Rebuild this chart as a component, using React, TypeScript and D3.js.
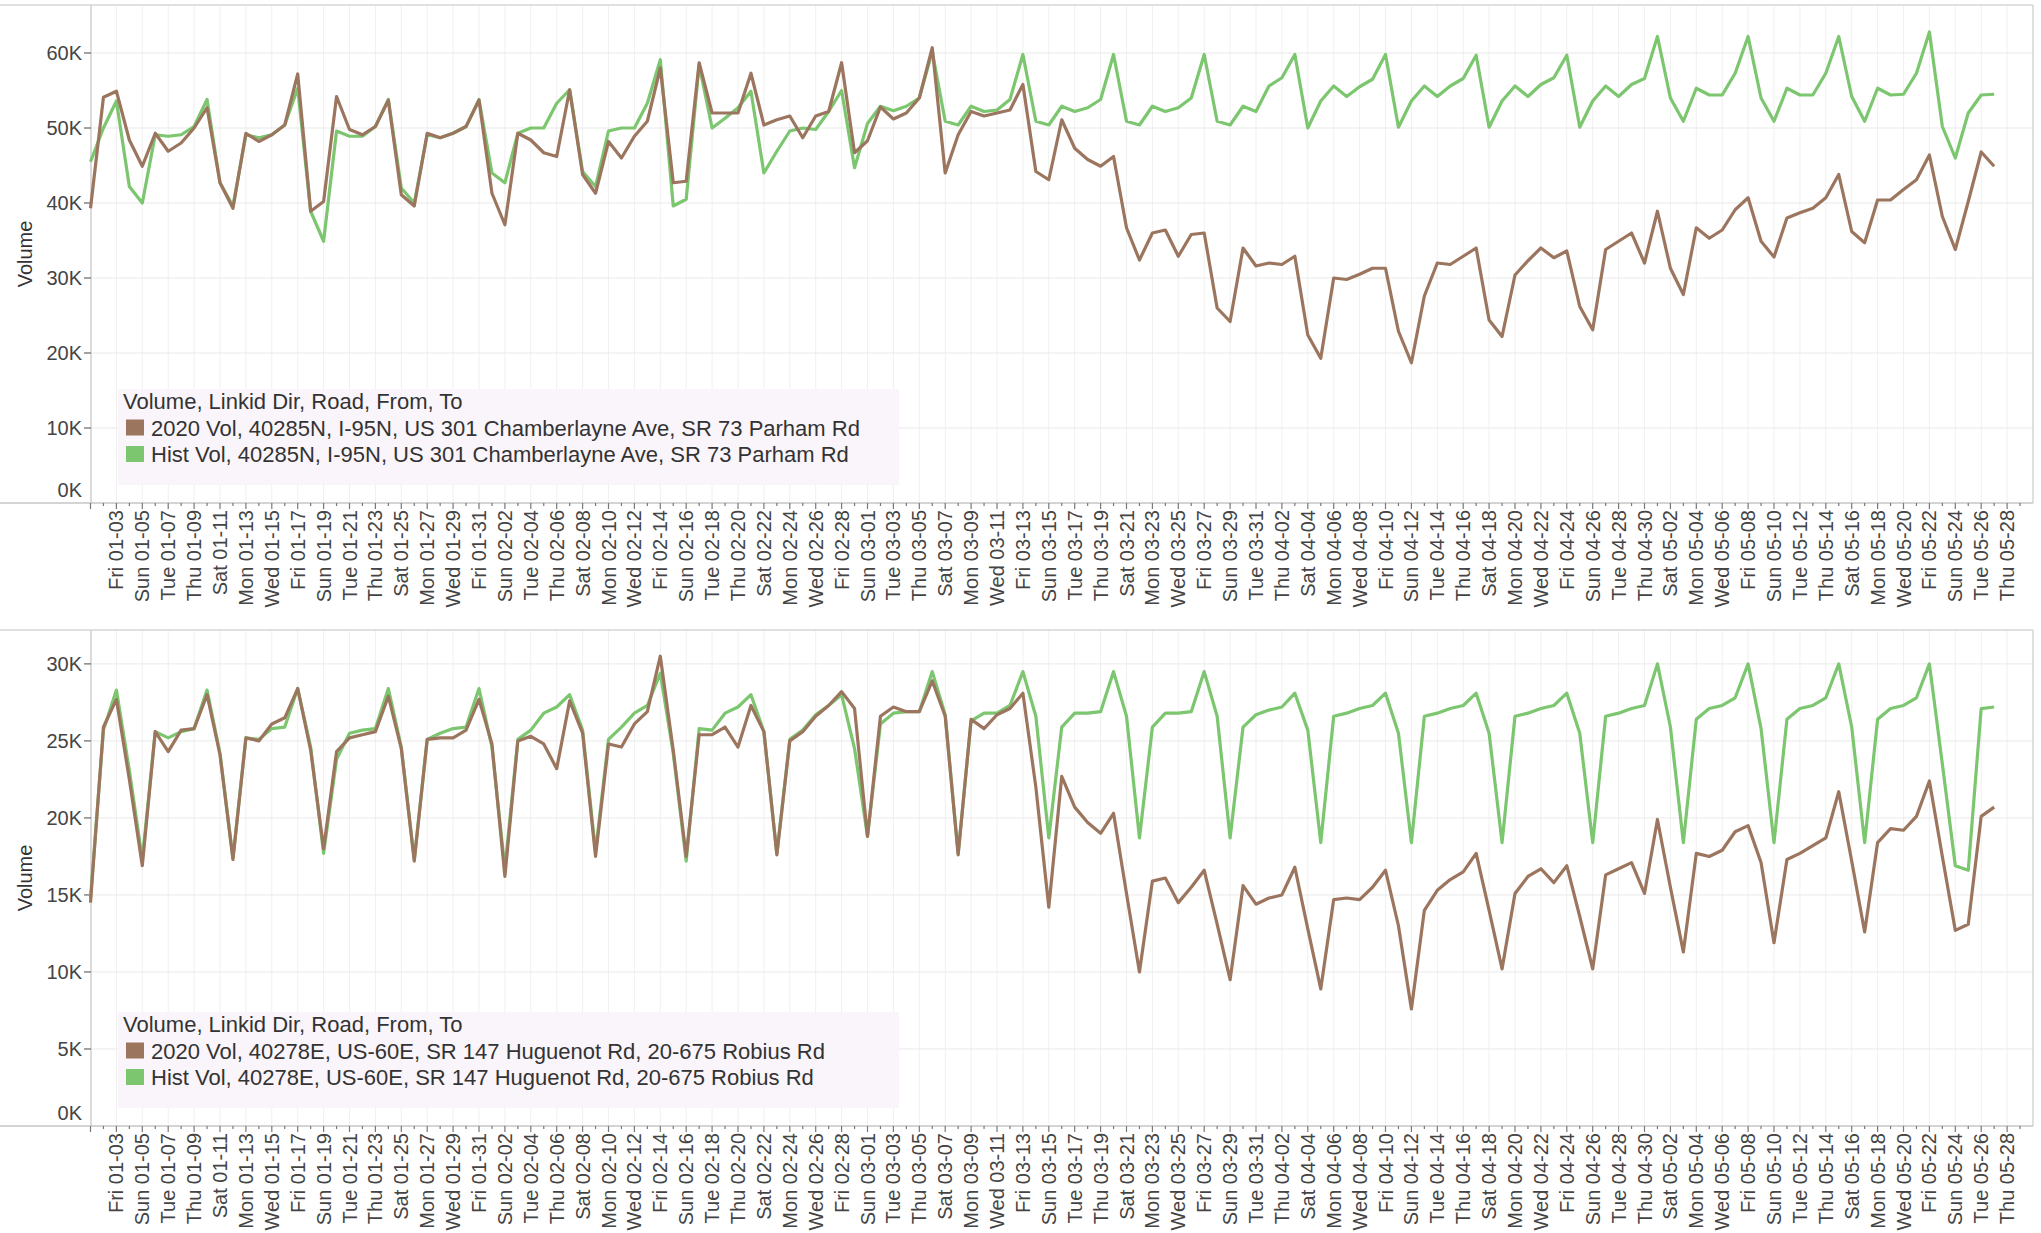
import { useEffect, useRef } from 'react';
import * as d3 from 'd3';

const WIDTH = 2041;
const HEIGHT = 1233;

// one value per day, Wed 01-01 .. Wed 05-27, in thousands of vehicles
const vol2020_40285N = [
  39.3, 54.1, 54.9, 48.4, 44.9, 49.3, 46.9, 48.0, 50.0, 52.7,
  42.7, 39.3, 49.3, 48.2, 49.1, 50.4, 57.2, 38.9, 40.2, 54.2,
  49.8, 49.1, 50.2, 53.7, 41.1, 39.6, 49.3, 48.7, 49.3, 50.2,
  53.7, 41.3, 37.1, 49.3, 48.4, 46.7, 46.2, 55.1, 43.8, 41.3,
  48.2, 46.0, 48.9, 50.9, 58.0, 42.7, 42.9, 58.7, 52.0, 52.0,
  52.0, 57.3, 50.4, 51.1, 51.6, 48.7, 51.6, 52.2, 58.7, 46.7,
  48.3, 52.8, 51.2, 52.0, 54.0, 60.7, 44.0, 49.1, 52.2, 51.6,
  52.0, 52.4, 55.8, 44.2, 43.1, 51.1, 47.3, 45.8, 44.9, 46.2,
  36.7, 32.4, 36.0, 36.4, 32.9, 35.8, 36.0, 26.0, 24.2, 34.0,
  31.6, 32.0, 31.8, 32.9, 22.4, 19.3, 30.0, 29.8, 30.5, 31.3,
  31.3, 22.9, 18.7, 27.6, 32.0, 31.8, 32.9, 34.0, 24.4, 22.2,
  30.4, 32.3, 34.0, 32.7, 33.6, 26.2, 23.1, 33.8, 34.9, 36.0,
  32.0, 38.9, 31.3, 27.8, 36.7, 35.3, 36.4, 39.1, 40.7, 34.9,
  32.8, 38.0, 38.7, 39.3, 40.7, 43.8, 36.2, 34.7, 40.4, 40.4,
  41.8, 43.1, 46.4, 38.2, 33.8, 40.2, 46.8, 44.9,
];

const hist_40285N = [
  45.5, 50.0, 53.6, 42.2, 40.0, 49.1, 48.9, 49.1, 50.2, 53.8,
  42.7, 39.6, 49.1, 48.7, 49.1, 50.4, 55.3, 38.9, 34.9, 49.6,
  48.9, 48.9, 50.2, 53.8, 42.0, 40.0, 49.1, 48.7, 49.3, 50.2,
  53.8, 44.0, 42.7, 49.3, 50.0, 50.0, 53.3, 55.1, 44.2, 42.2,
  49.6, 50.0, 50.0, 53.3, 59.1, 39.6, 40.5, 58.4, 50.0, 51.3,
  52.7, 54.9, 44.0, 46.9, 49.6, 50.0, 49.8, 52.2, 55.0, 44.7,
  50.6, 52.9, 52.3, 52.9, 54.0, 60.2, 50.9, 50.4, 52.9, 52.2,
  52.4, 53.8, 59.8, 50.9, 50.4, 52.9, 52.2, 52.7, 53.8, 59.8,
  50.9, 50.4, 52.9, 52.2, 52.7, 54.0, 59.8, 50.9, 50.4, 52.9,
  52.2, 55.6, 56.7, 59.8, 50.0, 53.6, 55.6, 54.2, 55.5, 56.5,
  59.8, 50.1, 53.6, 55.6, 54.2, 55.6, 56.6, 59.7, 50.1, 53.6,
  55.6, 54.2, 55.8, 56.7, 59.7, 50.1, 53.6, 55.6, 54.2, 55.8,
  56.6, 62.2, 54.0, 50.9, 55.3, 54.4, 54.4, 57.3, 62.2, 54.0,
  50.9, 55.3, 54.4, 54.4, 57.3, 62.2, 54.2, 50.9, 55.3, 54.4,
  54.5, 57.3, 62.8, 50.2, 46.0, 52.0, 54.4, 54.5,
];

const vol2020_40278E = [
  14.5, 25.9, 27.7, 22.5, 16.9, 25.6, 24.3, 25.7, 25.8, 28.0,
  24.1, 17.3, 25.2, 25.0, 26.1, 26.5, 28.4, 24.4, 18.0, 24.3,
  25.2, 25.4, 25.6, 27.9, 24.5, 17.2, 25.1, 25.2, 25.2, 25.7,
  27.7, 24.8, 16.2, 25.0, 25.3, 24.8, 23.2, 27.6, 25.5, 17.5,
  24.8, 24.6, 26.1, 26.9, 30.5, 24.4, 17.5, 25.4, 25.4, 25.9,
  24.6, 27.3, 25.6, 17.6, 25.0, 25.6, 26.6, 27.3, 28.2, 27.1,
  18.8, 26.6, 27.2, 26.9, 26.9, 28.9, 26.6, 17.6, 26.4, 25.8,
  26.7, 27.1, 28.1, 22.0, 14.2, 22.7, 20.7, 19.7, 19.0, 20.3,
  15.1, 10.0, 15.9, 16.1, 14.5, 15.5, 16.6, 13.1, 9.5, 15.6,
  14.4, 14.8, 15.0, 16.8, 12.8, 8.9, 14.7, 14.8, 14.7, 15.5,
  16.6, 13.0, 7.6, 14.0, 15.3, 16.0, 16.5, 17.7, 14.0, 10.2,
  15.1, 16.2, 16.7, 15.8, 16.9, 13.6, 10.2, 16.3, 16.7, 17.1,
  15.1, 19.9, 15.5, 11.3, 17.7, 17.5, 17.9, 19.1, 19.5, 17.1,
  11.9, 17.3, 17.7, 18.2, 18.7, 21.7, 17.2, 12.6, 18.4, 19.3,
  19.2, 20.1, 22.4, 17.5, 12.7, 13.1, 20.1, 20.7,
];

const hist_40278E = [
  14.8, 25.7, 28.3, 23.1, 17.3, 25.6, 25.2, 25.6, 25.8, 28.3,
  24.2, 17.4, 25.2, 25.1, 25.8, 25.9, 28.4, 24.6, 17.7, 23.8,
  25.5, 25.7, 25.8, 28.4, 24.6, 17.3, 25.1, 25.5, 25.8, 25.9,
  28.4, 24.6, 16.7, 25.1, 25.7, 26.8, 27.2, 28.0, 25.7, 17.8,
  25.1, 25.9, 26.8, 27.3, 29.4, 24.2, 17.2, 25.8, 25.7, 26.8,
  27.2, 28.0, 25.6, 17.7, 25.1, 25.7, 26.7, 27.3, 28.0, 24.5,
  18.8, 26.1, 26.8, 26.9, 26.9, 29.5, 26.7, 17.7, 26.3, 26.8,
  26.8, 27.3, 29.5, 26.6, 18.7, 25.9, 26.8, 26.8, 26.9, 29.5,
  26.6, 18.7, 25.9, 26.8, 26.8, 26.9, 29.5, 26.6, 18.7, 25.9,
  26.7, 27.0, 27.2, 28.1, 25.7, 18.4, 26.6, 26.8, 27.1, 27.3,
  28.1, 25.5, 18.4, 26.6, 26.8, 27.1, 27.3, 28.1, 25.5, 18.4,
  26.6, 26.8, 27.1, 27.3, 28.1, 25.5, 18.4, 26.6, 26.8, 27.1,
  27.3, 30.0, 25.9, 18.4, 26.4, 27.1, 27.3, 27.8, 30.0, 25.8,
  18.4, 26.4, 27.1, 27.3, 27.8, 30.0, 25.9, 18.4, 26.4, 27.1,
  27.3, 27.8, 30.0, 23.5, 16.9, 16.6, 27.1, 27.2,
];

const ticksTop = [0, 10000, 20000, 30000, 40000, 50000, 60000];
const ticksBottom = [0, 5000, 10000, 15000, 20000, 25000, 30000];

const legendTitle = 'Volume, Linkid Dir, Road, From, To';
const legendTop = [
  '2020 Vol, 40285N, I-95N, US 301 Chamberlayne Ave, SR 73 Parham Rd',
  'Hist Vol, 40285N, I-95N, US 301 Chamberlayne Ave, SR 73 Parham Rd',
];
const legendBottom = [
  '2020 Vol, 40278E, US-60E, SR 147 Huguenot Rd, 20-675 Robius Rd',
  'Hist Vol, 40278E, US-60E, SR 147 Huguenot Rd, 20-675 Robius Rd',
];

const BROWN = '#9c755f';
const GREEN = '#7bc66e';
const FONT = '"Liberation Sans", Arial, sans-serif';
const TEXT = '#444';

const days = d3.timeDay.range(new Date(2020, 0, 1), new Date(2020, 4, 28));
const allDays = d3.timeDay.range(new Date(2020, 0, 1), new Date(2020, 4, 30));
const labelDays = d3.timeDay.range(new Date(2020, 0, 3), new Date(2020, 4, 29), 2);
const fmt = d3.timeFormat('%a %m-%d');

interface PanelSpec {
  top: number;
  axisY: number;
  yMax: number;
  ticks: number[];
  series2020: number[];
  seriesHist: number[];
  legend: string[];
}

const panels: PanelSpec[] = [
  { top: 5, axisY: 503, yMax: 66400, ticks: ticksTop, series2020: vol2020_40285N, seriesHist: hist_40285N, legend: legendTop },
  { top: 630, axisY: 1126, yMax: 32200, ticks: ticksBottom, series2020: vol2020_40278E, seriesHist: hist_40278E, legend: legendBottom },
];

export default function App() {
  const svgRef = useRef<SVGSVGElement>(null);

  useEffect(() => {
    if (!svgRef.current) return;
    const svg = d3.select(svgRef.current);
    svg.selectAll('*').remove();

    const left = 91;
    const right = 2033;

    const x = d3
      .scaleTime()
      .domain([new Date(2020, 0, 1), new Date(2020, 4, 30)])
      .range([90.5, right]);

    svg.append('rect').attr('width', WIDTH).attr('height', HEIGHT).attr('fill', '#fff');

    for (const p of panels) {
      const y = d3.scaleLinear().domain([0, p.yMax]).range([p.axisY, p.top]);
      const g = svg.append('g');

      // vertical gridlines on labelled days
      g.selectAll('.vgrid')
        .data(labelDays)
        .join('line')
        .attr('x1', d => x(d))
        .attr('x2', d => x(d))
        .attr('y1', p.top)
        .attr('y2', p.axisY)
        .attr('stroke', '#f0f0f0')
        .attr('stroke-width', 1);

      // horizontal gridlines
      g.selectAll('.hgrid')
        .data(p.ticks.filter(t => t > 0))
        .join('line')
        .attr('x1', left)
        .attr('x2', right)
        .attr('y1', d => y(d))
        .attr('y2', d => y(d))
        .attr('stroke', '#e9e9e9')
        .attr('stroke-width', 1);

      // frame
      g.append('line')
        .attr('x1', 0).attr('x2', right)
        .attr('y1', p.top).attr('y2', p.top)
        .attr('stroke', '#d6d6d6').attr('stroke-width', 1.5);
      g.append('line')
        .attr('x1', right).attr('x2', right)
        .attr('y1', p.top).attr('y2', p.axisY)
        .attr('stroke', '#d6d6d6').attr('stroke-width', 1.5);
      g.append('line')
        .attr('x1', left).attr('x2', left)
        .attr('y1', p.top).attr('y2', p.axisY)
        .attr('stroke', '#cfcfcf').attr('stroke-width', 1.5);
      g.append('line')
        .attr('x1', 0).attr('x2', right)
        .attr('y1', p.axisY).attr('y2', p.axisY)
        .attr('stroke', '#c6c6c6').attr('stroke-width', 1.5);

      // y ticks and labels
      g.selectAll('.ytick')
        .data(p.ticks.filter(t => t > 0))
        .join('line')
        .attr('x1', left - 7)
        .attr('x2', left)
        .attr('y1', d => y(d))
        .attr('y2', d => y(d))
        .attr('stroke', '#666')
        .attr('stroke-width', 1.2);

      g.selectAll('.ylabel')
        .data(p.ticks)
        .join('text')
        .attr('x', left - 9)
        .attr('y', d => (d === 0 ? y(d) - 13 : y(d)))
        .attr('dy', '0.35em')
        .attr('text-anchor', 'end')
        .style('font-family', FONT)
        .style('font-size', '20px')
        .style('fill', TEXT)
        .text(d => `${d / 1000}K`);

      g.append('text')
        .attr('transform', `translate(25,${(p.top + p.axisY) / 2}) rotate(-90)`)
        .attr('text-anchor', 'middle')
        .attr('dy', '0.35em')
        .style('font-family', FONT)
        .style('font-size', '20px')
        .style('fill', '#333')
        .text('Volume');

      // x ticks: every day, longer on labelled days
      g.selectAll('.xtick')
        .data(allDays)
        .join('line')
        .attr('x1', d => x(d))
        .attr('x2', d => x(d))
        .attr('y1', p.axisY)
        .attr('y2', (_, i) => p.axisY + (i % 2 === 0 ? 6 : 3))
        .attr('stroke', '#777')
        .attr('stroke-width', 1.2);

      g.selectAll('.xlabel')
        .data(labelDays)
        .join('text')
        .attr('transform', d => `translate(${x(d)},${p.axisY + 7}) rotate(-90)`)
        .attr('text-anchor', 'end')
        .attr('dy', '0.35em')
        .style('font-family', FONT)
        .style('font-size', '20px')
        .style('fill', TEXT)
        .text(d => fmt(d));

      // lines
      const line = d3
        .line<number>()
        .x((_, i) => x(days[i]))
        .y(v => y(v * 1000));

      g.append('path')
        .datum(p.seriesHist)
        .attr('d', line)
        .attr('fill', 'none')
        .attr('stroke', GREEN)
        .attr('stroke-width', 3.2)
        .attr('stroke-linejoin', 'round');

      g.append('path')
        .datum(p.series2020)
        .attr('d', line)
        .attr('fill', 'none')
        .attr('stroke', BROWN)
        .attr('stroke-width', 3.2)
        .attr('stroke-linejoin', 'round');

      // legend
      const lg = g.append('g');
      lg.append('rect')
        .attr('x', 118)
        .attr('y', p.axisY - 114)
        .attr('width', 781)
        .attr('height', 96)
        .attr('fill', '#faf4fa')
        .attr('fill-opacity', 0.92);

      lg.append('text')
        .attr('x', 123)
        .attr('y', p.axisY - 94)
        .style('font-family', FONT)
        .style('font-size', '22px')
        .style('fill', '#333')
        .text(legendTitle);

      const colors = [BROWN, GREEN];
      p.legend.forEach((label, i) => {
        const baseY = p.axisY - 67.5 + i * 26.5;
        lg.append('rect')
          .attr('x', 126)
          .attr('y', baseY - 16)
          .attr('width', 18)
          .attr('height', 16)
          .attr('fill', colors[i]);
        lg.append('text')
          .attr('x', 151)
          .attr('y', baseY)
          .style('font-family', FONT)
          .style('font-size', '22px')
          .style('fill', '#333')
          .text(label);
      });
    }
  }, []);

  return (
    <svg
      ref={svgRef}
      width={WIDTH}
      height={HEIGHT}
      style={{ position: 'absolute', left: 0, top: 0 }}
    />
  );
}
